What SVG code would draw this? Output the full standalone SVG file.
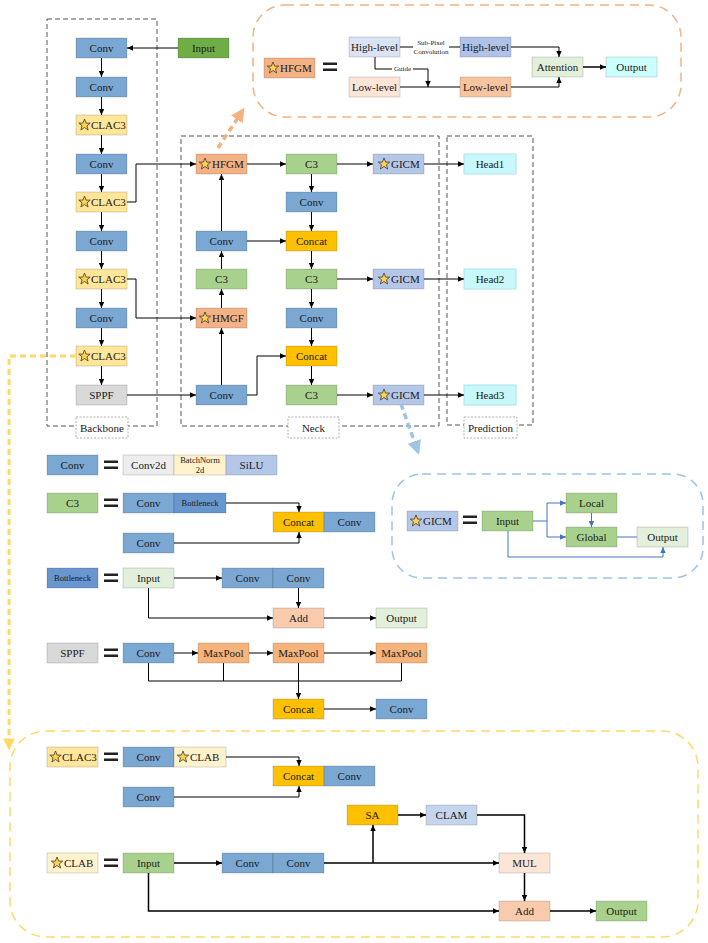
<svg xmlns="http://www.w3.org/2000/svg" width="708" height="943" viewBox="0 0 708 943">
<defs>
<marker id="ah" viewBox="0 0 10 10" refX="10" refY="5" markerWidth="7" markerHeight="6" markerUnits="userSpaceOnUse" orient="auto"><path d="M0,0.5 L10,5 L0,9.5 z" fill="#000"/></marker>
<marker id="ahb" viewBox="0 0 10 10" refX="10" refY="5" markerWidth="7" markerHeight="6" markerUnits="userSpaceOnUse" orient="auto"><path d="M0,0.5 L10,5 L0,9.5 z" fill="#4472c4"/></marker>
<marker id="aho" viewBox="0 0 10 10" refX="8" refY="5" markerWidth="14" markerHeight="14" markerUnits="userSpaceOnUse" orient="auto"><path d="M0,0 L10,5 L0,10 z" fill="#f4b183"/></marker>
<marker id="ahl" viewBox="0 0 10 10" refX="8" refY="5" markerWidth="14" markerHeight="14" markerUnits="userSpaceOnUse" orient="auto"><path d="M0,0 L10,5 L0,10 z" fill="#9dc3e6"/></marker>
<marker id="ahy" viewBox="0 0 10 10" refX="8" refY="5" markerWidth="12" markerHeight="12" markerUnits="userSpaceOnUse" orient="auto"><path d="M0,0 L10,5 L0,10 z" fill="#ffd966"/></marker>
<path id="star" d="M0,-6 L1.6,-1.9 L5.7,-1.9 L2.5,0.8 L3.6,5 L0,2.5 L-3.6,5 L-2.5,0.8 L-5.7,-1.9 L-1.6,-1.9 Z" fill="#ffd24d" stroke="#3a3a3a" stroke-width="0.8" stroke-linejoin="round"/>
</defs>
<style>
.n{stroke:#000;stroke-opacity:0.15;stroke-width:1}
.t{font-family:"Liberation Serif","Times New Roman",serif;font-size:11px;fill:#1a1a1a;text-anchor:middle;dominant-baseline:central}
.ts{font-size:8.5px}
.tx{font-size:7px}
.tl{text-anchor:start}
.c{fill:none;stroke:#000;stroke-width:1}
.cw{stroke-width:1.5}
.a{marker-end:url(#ah)}
.cb{fill:none;stroke:#4472c4;stroke-width:1}
.ab{marker-end:url(#ahb)}
.box{fill:none;stroke:#555;stroke-width:1;stroke-dasharray:5 3}
.lab{fill:#fff;stroke:#9a9a9a;stroke-width:0.8;stroke-dasharray:2 1.5}
.eq{fill:#222}
.conv{fill:#7ba7d3}
.clac{fill:#ffe699}
.c3{fill:#a9d18e}
.org{fill:#f4b183}
.cat{fill:#ffc000}
.gicm{fill:#b4c7e7}
.head{fill:#c9f8fb;stroke:#a6e6ec;stroke-width:1}
.sppf{fill:#d9d9d9}
.inp{fill:#70ad47}
.bott{fill:#6897cf}
.lg{fill:#e2efda}
.add{fill:#f8cbad}
.mp{fill:#f6b47c}
.mul{fill:#fce4d6}
.bn{fill:#fff2cc}
.c2d{fill:#ededed}
.hl1{fill:#dae3f3}
.hl2{fill:#b0c2e8}
.ll1{fill:#fbe5d6}
.ll2{fill:#f7c4a0}
.cy{fill:#ccffff}
.clam{fill:#c5d5ee}
</style>

<!-- frames -->
<g id="frames">
<rect class="box" x="47" y="19" width="110" height="407"/>
<rect class="box" x="181" y="136" width="258" height="290"/>
<rect class="box" x="447" y="136" width="86" height="289"/>
<rect class="lab" x="76" y="417" width="52" height="21"/><text class="t" x="102" y="428">Backbone</text>
<rect class="lab" x="288" y="417" width="51" height="21"/><text class="t" x="313.5" y="428">Neck</text>
<rect class="lab" x="464" y="417" width="53" height="21"/><text class="t" x="490.5" y="428">Prediction</text>
</g>

<!-- backbone -->
<g id="bb1"><rect class="n conv" x="76" y="38" width="51" height="20"/><text class="t" x="101.5" y="48">Conv</text></g>
<g id="bb2"><rect class="n conv" x="76" y="77" width="51" height="20"/><text class="t" x="101.5" y="87">Conv</text></g>
<g id="bb3"><rect class="n clac" x="76" y="115" width="51" height="20"/><use href="#star" x="84.5" y="125"/><text class="t tl" x="91" y="125">CLAC3</text></g>
<g id="bb4"><rect class="n conv" x="76" y="154" width="51" height="20"/><text class="t" x="101.5" y="164">Conv</text></g>
<g id="bb5"><rect class="n clac" x="76" y="192" width="51" height="20"/><use href="#star" x="84.5" y="202"/><text class="t tl" x="91" y="202">CLAC3</text></g>
<g id="bb6"><rect class="n conv" x="76" y="231" width="51" height="20"/><text class="t" x="101.5" y="241">Conv</text></g>
<g id="bb7"><rect class="n clac" x="76" y="269" width="51" height="20"/><use href="#star" x="84.5" y="279"/><text class="t tl" x="91" y="279">CLAC3</text></g>
<g id="bb8"><rect class="n conv" x="76" y="308" width="51" height="20"/><text class="t" x="101.5" y="318">Conv</text></g>
<g id="bb9"><rect class="n clac" x="76" y="346" width="51" height="20"/><use href="#star" x="84.5" y="356"/><text class="t tl" x="91" y="356">CLAC3</text></g>
<g id="bb10"><rect class="n sppf" x="76" y="385" width="51" height="20"/><text class="t" x="101.5" y="395">SPPF</text></g>
<g id="input"><rect class="n inp" x="178" y="38" width="51" height="20"/><text class="t" x="203.5" y="48">Input</text></g>

<!-- neck -->
<g id="nk_hfgm"><rect class="n org" x="196" y="154" width="51" height="20"/><use href="#star" x="205" y="164"/><text class="t tl" x="212" y="164">HFGM</text></g>
<g id="nk_conv1"><rect class="n conv" x="196" y="231" width="51" height="20"/><text class="t" x="221.5" y="241">Conv</text></g>
<g id="nk_c3a"><rect class="n c3" x="196" y="269" width="51" height="20"/><text class="t" x="221.5" y="279">C3</text></g>
<g id="nk_hmgf"><rect class="n org" x="196" y="308" width="51" height="20"/><use href="#star" x="205" y="318"/><text class="t tl" x="212" y="318">HMGF</text></g>
<g id="nk_conv2"><rect class="n conv" x="196" y="385" width="51" height="20"/><text class="t" x="221.5" y="395">Conv</text></g>
<g id="nk_c3b"><rect class="n c3" x="286" y="154" width="51" height="20"/><text class="t" x="311.5" y="164">C3</text></g>
<g id="nk_conv3"><rect class="n conv" x="286" y="192" width="51" height="20"/><text class="t" x="311.5" y="202">Conv</text></g>
<g id="nk_cat1"><rect class="n cat" x="286" y="231" width="51" height="20"/><text class="t" x="311.5" y="241">Concat</text></g>
<g id="nk_c3c"><rect class="n c3" x="286" y="269" width="51" height="20"/><text class="t" x="311.5" y="279">C3</text></g>
<g id="nk_conv4"><rect class="n conv" x="286" y="308" width="51" height="20"/><text class="t" x="311.5" y="318">Conv</text></g>
<g id="nk_cat2"><rect class="n cat" x="286" y="346" width="51" height="20"/><text class="t" x="311.5" y="356">Concat</text></g>
<g id="nk_c3d"><rect class="n c3" x="286" y="385" width="51" height="20"/><text class="t" x="311.5" y="395">C3</text></g>
<g id="nk_gicm1"><rect class="n gicm" x="373" y="154" width="51" height="20"/><use href="#star" x="384" y="164"/><text class="t tl" x="391" y="164">GICM</text></g>
<g id="nk_gicm2"><rect class="n gicm" x="373" y="269" width="51" height="20"/><use href="#star" x="384" y="279"/><text class="t tl" x="391" y="279">GICM</text></g>
<g id="nk_gicm3"><rect class="n gicm" x="373" y="385" width="51" height="20"/><use href="#star" x="384" y="395"/><text class="t tl" x="391" y="395">GICM</text></g>
<g id="head1"><rect class="head" x="464" y="154" width="52" height="20"/><text class="t" x="490" y="164">Head1</text></g>
<g id="head2"><rect class="head" x="464" y="269" width="52" height="20"/><text class="t" x="490" y="279">Head2</text></g>
<g id="head3"><rect class="head" x="464" y="385" width="52" height="20"/><text class="t" x="490" y="395">Head3</text></g>

<!-- HFGM callout -->
<g id="hfgm_callout">
<rect x="253" y="5" width="428" height="112" rx="32" fill="none" stroke="#f4b183" stroke-width="1.5" stroke-dasharray="9 6"/>
<g id="hf_label"><rect class="n org" x="264" y="58" width="51" height="20"/><use href="#star" x="273" y="68"/><text class="t tl" x="280" y="68">HFGM</text></g>
<g id="hf_eq"><rect class="eq" x="323" y="62.5" width="14" height="2.5"/><rect class="eq" x="323" y="68.5" width="14" height="2.5"/></g>
<g id="hf_high1"><rect class="n hl1" x="349" y="37" width="51" height="20"/><text class="t" x="374.5" y="47">High-level</text></g>
<g id="hf_high2"><rect class="n hl2" x="460" y="37" width="51" height="20"/><text class="t" x="485.5" y="47">High-level</text></g>
<g id="hf_low1"><rect class="n ll1" x="349" y="77" width="51" height="20"/><text class="t" x="374.5" y="87">Low-level</text></g>
<g id="hf_low2"><rect class="n ll2" x="460" y="77" width="51" height="20"/><text class="t" x="485.5" y="87">Low-level</text></g>
<g id="hf_att"><rect class="n lg" x="532" y="57" width="51" height="20"/><text class="t" x="557.5" y="67">Attention</text></g>
<g id="hf_out"><rect class="n cy" x="606" y="57" width="51" height="20"/><text class="t" x="631.5" y="67">Output</text></g>
</g>

<!-- GICM callout -->
<g id="gicm_callout">
<rect x="392" y="474" width="311" height="104" rx="30" fill="none" stroke="#9dc3e6" stroke-width="1.5" stroke-dasharray="9 6"/>
<g id="gc_label"><rect class="n gicm" x="407" y="511" width="51" height="20"/><use href="#star" x="416" y="521"/><text class="t tl" x="423" y="521">GICM</text></g>
<g id="gc_eq"><rect class="eq" x="463" y="515.5" width="14" height="2.5"/><rect class="eq" x="463" y="521.5" width="14" height="2.5"/></g>
<g id="gc_input"><rect class="n c3" x="482" y="511" width="51" height="20"/><text class="t" x="507.5" y="521">Input</text></g>
<g id="gc_local"><rect class="n c3" x="566" y="493" width="51" height="20"/><text class="t" x="591.5" y="503">Local</text></g>
<g id="gc_global"><rect class="n c3" x="566" y="527" width="51" height="20"/><text class="t" x="591.5" y="537">Global</text></g>
<g id="gc_out"><rect class="n lg" x="637" y="527" width="51" height="20"/><text class="t" x="662.5" y="537">Output</text></g>
</g>

<!-- Conv definition -->
<g id="def_conv">
<rect class="n conv" x="47" y="455" width="51" height="20"/><text class="t" x="72.5" y="465">Conv</text>
<rect class="eq" x="104" y="460.5" width="14" height="2.5"/><rect class="eq" x="104" y="466.5" width="14" height="2.5"/>
<rect class="n c2d" x="123" y="455" width="51" height="20"/><text class="t" x="148.5" y="465">Conv2d</text>
<rect class="n bn" x="174" y="455" width="52" height="20"/><text class="t ts" x="200" y="460">BatchNorm</text><text class="t ts" x="200" y="470">2d</text>
<rect class="n gicm" x="226" y="455" width="51" height="20"/><text class="t" x="251.5" y="465">SiLU</text>
</g>

<!-- C3 definition -->
<g id="def_c3">
<rect class="n c3" x="47" y="493" width="51" height="20"/><text class="t" x="72.5" y="503">C3</text>
<rect class="eq" x="104" y="498.5" width="14" height="2.5"/><rect class="eq" x="104" y="504.5" width="14" height="2.5"/>
<rect class="n conv" x="123" y="493" width="51" height="20"/><text class="t" x="148.5" y="503">Conv</text>
<rect class="n bott" x="174" y="493" width="52" height="20"/><text class="t ts" x="200" y="503">Bottleneck</text>
<rect class="n cat" x="273" y="512" width="51" height="20"/><text class="t" x="298.5" y="522">Concat</text>
<rect class="n conv" x="324" y="512" width="51" height="20"/><text class="t" x="349.5" y="522">Conv</text>
<rect class="n conv" x="123" y="533" width="51" height="20"/><text class="t" x="148.5" y="543">Conv</text>
</g>

<!-- Bottleneck definition -->
<g id="def_bottleneck">
<rect class="n bott" x="47" y="568" width="51" height="20"/><text class="t ts" x="72.5" y="578">Bottleneck</text>
<rect class="eq" x="104" y="573.5" width="14" height="2.5"/><rect class="eq" x="104" y="579.5" width="14" height="2.5"/>
<rect class="n lg" x="123" y="568" width="51" height="20"/><text class="t" x="148.5" y="578">Input</text>
<rect class="n conv" x="222" y="568" width="51" height="20"/><text class="t" x="247.5" y="578">Conv</text>
<rect class="n conv" x="273" y="568" width="51" height="20"/><text class="t" x="298.5" y="578">Conv</text>
<rect class="n add" x="273" y="608" width="51" height="20"/><text class="t" x="298.5" y="618">Add</text>
<rect class="n lg" x="376" y="608" width="51" height="20"/><text class="t" x="401.5" y="618">Output</text>
</g>

<!-- SPPF definition -->
<g id="def_sppf">
<rect class="n sppf" x="47" y="643" width="51" height="20"/><text class="t" x="72.5" y="653">SPPF</text>
<rect class="eq" x="104" y="648.5" width="14" height="2.5"/><rect class="eq" x="104" y="654.5" width="14" height="2.5"/>
<rect class="n conv" x="123" y="643" width="51" height="20"/><text class="t" x="148.5" y="653">Conv</text>
<rect class="n mp" x="198" y="643" width="51" height="20"/><text class="t" x="223.5" y="653">MaxPool</text>
<rect class="n mp" x="273" y="643" width="51" height="20"/><text class="t" x="298.5" y="653">MaxPool</text>
<rect class="n mp" x="376" y="643" width="51" height="20"/><text class="t" x="401.5" y="653">MaxPool</text>
<rect class="n cat" x="273" y="699" width="51" height="20"/><text class="t" x="298.5" y="709">Concat</text>
<rect class="n conv" x="376" y="699" width="51" height="20"/><text class="t" x="401.5" y="709">Conv</text>
</g>

<!-- CLAC3 / CLAB callout -->
<g id="clac_callout">
<rect x="10" y="731" width="688" height="206" rx="36" fill="none" stroke="#ffd966" stroke-width="1.5" stroke-dasharray="9 6"/>
<g id="cl_label"><rect class="n clac" x="47" y="747" width="51" height="20"/><use href="#star" x="55.5" y="757"/><text class="t tl" x="62" y="757">CLAC3</text></g>
<g id="cl_eq"><rect class="eq" x="104" y="752.5" width="14" height="2.5"/><rect class="eq" x="104" y="758.5" width="14" height="2.5"/></g>
<g id="cl_conv1"><rect class="n conv" x="123" y="747" width="51" height="20"/><text class="t" x="148.5" y="757">Conv</text></g>
<g id="cl_clab"><rect class="n bn" x="174" y="747" width="52" height="20"/><use href="#star" x="183" y="757"/><text class="t tl" x="190" y="757">CLAB</text></g>
<g id="cl_cat"><rect class="n cat" x="273" y="766" width="51" height="20"/><text class="t" x="298.5" y="776">Concat</text></g>
<g id="cl_conv2"><rect class="n conv" x="324" y="766" width="51" height="20"/><text class="t" x="349.5" y="776">Conv</text></g>
<g id="cl_conv3"><rect class="n conv" x="123" y="787" width="51" height="20"/><text class="t" x="148.5" y="797">Conv</text></g>
<g id="cb_sa"><rect class="n cat" x="347" y="805" width="51" height="20"/><text class="t" x="372.5" y="815">SA</text></g>
<g id="cb_clam"><rect class="n clam" x="426" y="805" width="51" height="20"/><text class="t" x="451.5" y="815">CLAM</text></g>
<g id="cb_label"><rect class="n bn" x="47" y="853" width="51" height="20"/><use href="#star" x="57" y="863"/><text class="t tl" x="64" y="863">CLAB</text></g>
<g id="cb_eq"><rect class="eq" x="104" y="858.5" width="14" height="2.5"/><rect class="eq" x="104" y="864.5" width="14" height="2.5"/></g>
<g id="cb_input"><rect class="n c3" x="123" y="853" width="51" height="20"/><text class="t" x="148.5" y="863">Input</text></g>
<g id="cb_conv1"><rect class="n conv" x="222" y="853" width="51" height="20"/><text class="t" x="247.5" y="863">Conv</text></g>
<g id="cb_conv2"><rect class="n conv" x="273" y="853" width="51" height="20"/><text class="t" x="298.5" y="863">Conv</text></g>
<g id="cb_mul"><rect class="n mul" x="499" y="853" width="51" height="20"/><text class="t" x="524.5" y="863">MUL</text></g>
<g id="cb_add"><rect class="n add" x="499" y="901" width="51" height="20"/><text class="t" x="524.5" y="911">Add</text></g>
<g id="cb_out"><rect class="n c3" x="596" y="901" width="51" height="20"/><text class="t" x="621.5" y="911">Output</text></g>
</g>

<!-- connectors -->
<g id="connectors">
<path class="c a" d="M178,48 H127"/>
<path class="c a" d="M101.5,58 V77"/>
<path class="c a" d="M101.5,97 V115"/>
<path class="c a" d="M101.5,135 V154"/>
<path class="c a" d="M101.5,174 V192"/>
<path class="c a" d="M101.5,212 V231"/>
<path class="c a" d="M101.5,251 V269"/>
<path class="c a" d="M101.5,289 V308"/>
<path class="c a" d="M101.5,328 V346"/>
<path class="c a" d="M101.5,366 V385"/>
<path class="c a" d="M127,202 H136 V164 H196"/>
<path class="c a" d="M127,279 H136 V318 H196"/>
<path class="c a" d="M127,395 H196"/>
<path class="c a" d="M221.5,385 V328"/>
<path class="c a" d="M221.5,308 V289"/>
<path class="c a" d="M221.5,269 V251"/>
<path class="c a" d="M221.5,231 V174"/>
<path class="c a" d="M247,241 H286"/>
<path class="c a" d="M247,164 H286"/>
<path class="c a" d="M311.5,174 V192"/>
<path class="c a" d="M311.5,212 V231"/>
<path class="c a" d="M311.5,251 V269"/>
<path class="c a" d="M311.5,289 V308"/>
<path class="c a" d="M311.5,328 V346"/>
<path class="c a" d="M311.5,366 V385"/>
<path class="c a" d="M247,395 H257 V356 H286"/>
<path class="c a" d="M337,164 H373"/>
<path class="c a" d="M337,279 H373"/>
<path class="c a" d="M337,395 H373"/>
<path class="c a" d="M424,164 H464"/>
<path class="c a" d="M424,279 H464"/>
<path class="c a" d="M424,395 H464"/>
<!-- callout pointers -->
<path d="M218,148 L243,110" fill="none" stroke="#f4b183" stroke-width="3.5" stroke-dasharray="6 4" marker-end="url(#aho)"/>
<path d="M401,404 L418,452" fill="none" stroke="#9dc3e6" stroke-width="3.5" stroke-dasharray="6 4" marker-end="url(#ahl)"/>
<path d="M76,356 H9 V748" fill="none" stroke="#ffd966" stroke-width="3" stroke-dasharray="6 4" marker-end="url(#ahy)"/>
<!-- HFGM callout lines -->
<path class="c" d="M400,47 H413"/>
<path class="c" d="M449,47 H460"/>
<text class="t tx" x="431" y="42.5">Sub-Pixel</text>
<text class="t tx" x="431" y="51.5">Convolution</text>
<path class="c a" d="M511,47 H559 V57"/>
<path class="c a" d="M511,87 H559 V77"/>
<path class="c" d="M400,87 H460"/>
<path class="c a" d="M375,57 V69 H428 V87"/>
<rect x="392" y="65" width="21" height="8" fill="#fff"/>
<text class="t tx" x="402.5" y="69">Guide</text>
<path class="c cw a" d="M583,67 H606"/>
<!-- GICM callout lines -->
<path class="cb" d="M533,521 H547"/>
<path class="cb" d="M547,503 V537"/>
<path class="cb ab" d="M547,503 H566"/>
<path class="cb ab" d="M547,537 H566"/>
<path class="cb ab" d="M591.5,513 V527"/>
<path class="cb" d="M617,537 H637"/>
<path class="cb ab" d="M508,531 V557 H663 V547"/>
<!-- C3 def -->
<path class="c a" d="M226,503 H299 V512"/>
<path class="c a" d="M174,543 H299 V532"/>
<!-- Bottleneck def -->
<path class="c a" d="M174,578 H222"/>
<path class="c a" d="M298.5,588 V608"/>
<path class="c a" d="M148.5,588 V618 H273"/>
<path class="c a" d="M324,618 H376"/>
<!-- SPPF def -->
<path class="c a" d="M174,653 H198"/>
<path class="c a" d="M249,653 H273"/>
<path class="c a" d="M324,653 H376"/>
<path class="c" d="M148.5,663 V681 H401.5 V663"/>
<path class="c" d="M223.5,663 V681"/>
<path class="c a" d="M298.5,663 V699"/>
<path class="c a" d="M324,709 H376"/>
<!-- CLAC3 def -->
<path class="c a" d="M226,757 H299 V766"/>
<path class="c a" d="M174,797 H299 V786"/>
<!-- CLAB def -->
<path class="c cw a" d="M174,863 H222"/>
<path class="c cw a" d="M324,863 H499"/>
<path class="c cw a" d="M373,863 V825"/>
<path class="c cw a" d="M398,815 H426"/>
<path class="c cw a" d="M477,815 H524.5 V853"/>
<path class="c cw a" d="M524.5,873 V901"/>
<path class="c cw a" d="M148.5,873 V911 H499"/>
<path class="c cw a" d="M550,911 H596"/>
</g>
</svg>
